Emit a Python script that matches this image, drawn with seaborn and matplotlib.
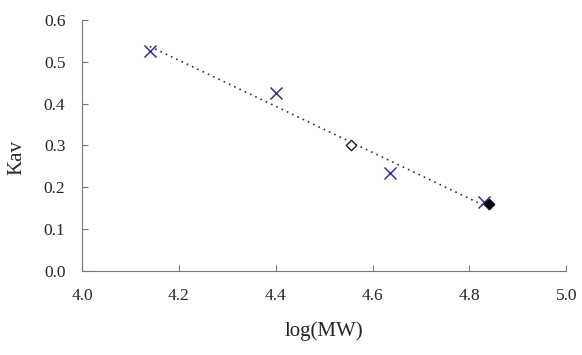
import numpy as np
import pandas as pd
import matplotlib
matplotlib.use('Agg')
import matplotlib.pyplot as plt
import seaborn as sns

## standards (crosses) and samples (diamonds)
std_logmw = [4.14, 4.40, 4.635, 4.83]
std_kav = [0.525, 0.425, 0.235, 0.165]
open_logmw = [4.555]
open_kav = [0.30]
filled_logmw = [4.84]
filled_kav = [0.16]
xticks = [4.0, 4.2, 4.4, 4.6, 4.8, 5.0]
yticks = [0.0, 0.1, 0.2, 0.3, 0.4, 0.5, 0.6]

sns.set_style('ticks', {'xtick.direction': 'in', 'ytick.direction': 'in'})
plt.rcParams['font.family'] = ['Liberation Serif', 'DejaVu Serif']
plt.rcParams['xtick.direction'] = 'in'
plt.rcParams['ytick.direction'] = 'in'

df = pd.DataFrame({'logMW': std_logmw, 'Kav': std_kav})

## linear fit of standards
slope, icpt = np.polyfit(df.logMW, df.Kav, 1)
fit = pd.DataFrame({'logMW': [min(std_logmw), max(std_logmw)]})
fit['Kav'] = slope * fit.logMW + icpt

fig = plt.figure(figsize=(5.82, 3.55), dpi=100)
ax = fig.add_axes([0.141, 0.237, 0.832, 0.707])

sns.lineplot(data=fit, x='logMW', y='Kav', ax=ax, color='#333333',
             linestyle=(0, (1, 2.5)), linewidth=1.2)
sns.scatterplot(data=df, x='logMW', y='Kav', ax=ax, marker='x', s=75,
                color='#333399', linewidth=1.1, zorder=3)
ax.scatter(open_logmw, open_kav, marker='D', s=28, facecolor='white',
           edgecolor='#222222', linewidth=1.0, zorder=4)
ax.scatter(filled_logmw, filled_kav, marker='D', s=28, color='black', zorder=4)

ax.set_xlim(4.0, 5.0)
ax.set_ylim(0.0, 0.6)
ax.set_xticks(xticks)
ax.set_yticks(yticks)
ax.set_xticklabels(['%.1f' % v for v in xticks])
ax.set_yticklabels(['%.1f' % v for v in yticks])
ax.tick_params(direction='in', length=4, width=0.8, color='#777777',
               labelsize=12.5)
ax.tick_params(axis='y', pad=12)
ax.tick_params(axis='x', pad=12)
for s in ['left', 'bottom']:
    ax.spines[s].set_color('#777777')
    ax.spines[s].set_linewidth(0.8)
sns.despine(ax=ax)

ax.set_xlabel('log(MW)', fontsize=15, labelpad=13)
ax.set_ylabel('Kav', fontsize=15)
ax.yaxis.set_label_coords(-0.115, 0.45)

fig.savefig('out.png', dpi=100)
